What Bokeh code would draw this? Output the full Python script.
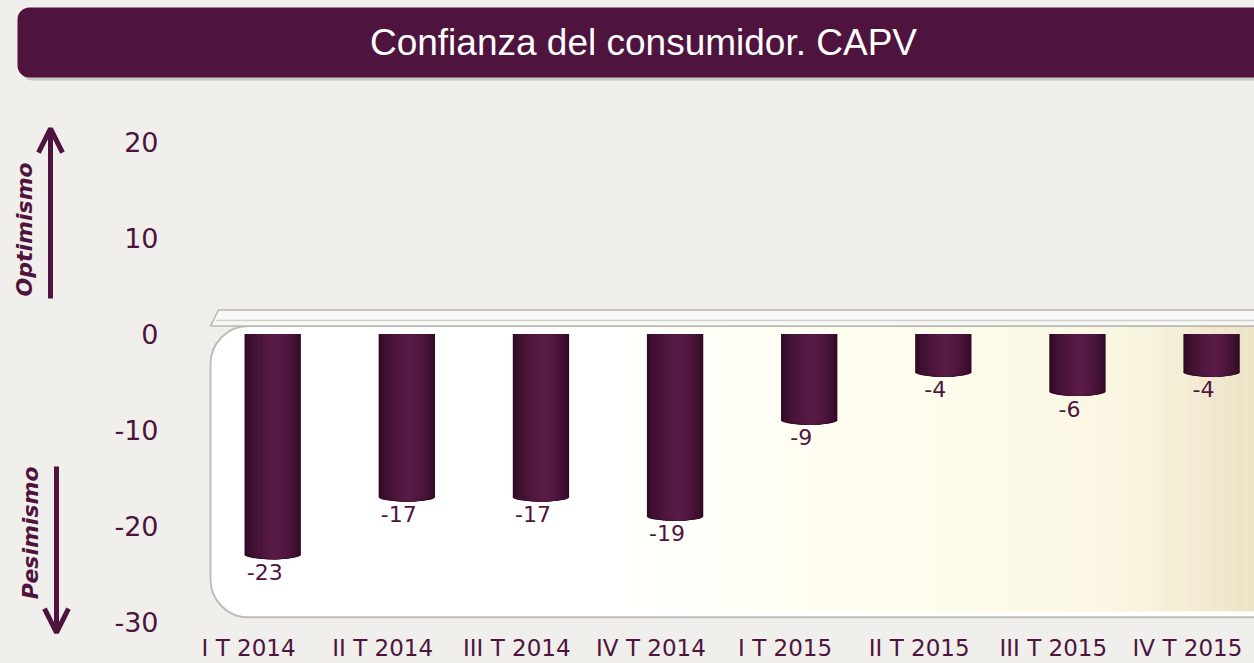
import numpy as np
from bokeh.plotting import figure
from bokeh.models import Range1d, FactorRange, FixedTicker, Arrow, OpenHead, ColumnDataSource
from bokeh.layouts import column, row
from bokeh.transform import dodge
from bokeh.core.properties import value
from bokeh.embed import file_html
from bokeh.resources import INLINE

# ---------------- data ----------------
categories = ["I T 2014", "II T 2014", "III T 2014", "IV T 2014",
              "I T 2015", "II T 2015", "III T 2015", "IV T 2015"]
confianza = [-23, -17, -17, -19, -9, -4, -6, -4]
y_ticks = [-30, -20, -10, 0, 10, 20]
title_text = "Confianza del consumidor. CAPV"
label_up = "Optimismo"
label_down = "Pesimismo"

# ---------------- style ----------------
PURPLE = "#4E143D"
BG = "#F0EFEB"
W = 1254
TITLE_H = 84
MAIN_H = 579
LEFT_W = 80

y_range = Range1d(-31.29, 24.32)

# ---------------- title bar ----------------
tf = figure(title=None, width=W, height=TITLE_H, x_range=Range1d(0, W), y_range=Range1d(0, TITLE_H),
            x_axis_type=None, y_axis_type=None, min_border=0,
            output_backend="svg", toolbar_location=None,
            background_fill_color=BG, border_fill_color=BG, outline_line_color=None)
tf.grid.visible = False
tf.quad(left=20, right=W + 30, top=73, bottom=4, fill_color="#8E8C86", fill_alpha=0.4,
        line_color=None, border_radius=12)
tf.quad(left=17, right=W + 30, top=77, bottom=7, fill_color=PURPLE, line_color=None,
        border_radius=12)
tf.text(x=[643], y=[42], text=[title_text], text_align="center", text_baseline="middle",
        text_font=value("Liberation Sans"), text_font_size="37px", text_color="white")

# ---------------- left arrows (frame aligned with the main chart) ----------------
lf = figure(title=None, width=LEFT_W, height=MAIN_H, x_range=Range1d(0, LEFT_W),
            y_range=y_range,
            x_axis_type=None, y_axis_type=None,
            min_border_left=0, min_border_right=0, min_border_top=16, min_border_bottom=28,
            output_backend="svg", toolbar_location=None,
            background_fill_color=BG, border_fill_color=BG, outline_line_color=None)
lf.grid.visible = False
lf.add_layout(Arrow(end=OpenHead(size=24, line_width=5, line_color=PURPLE),
                    x_start=50, y_start=3.7, x_end=50, y_end=21.4,
                    line_width=5, line_color=PURPLE))
lf.add_layout(Arrow(end=OpenHead(size=24, line_width=5, line_color=PURPLE),
                    x_start=56, y_start=-13.8, x_end=56, y_end=-31.1,
                    line_width=5, line_color=PURPLE))
lf.text(x=[24], y=[10.9], text=[label_up], angle=np.pi / 2, text_align="center",
        text_baseline="middle", text_font=value("DejaVu Sans"), text_font_style="bold italic",
        text_font_size="22px", text_color=PURPLE)
lf.text(x=[30], y=[-20.7], text=[label_down], angle=np.pi / 2, text_align="center",
        text_baseline="middle", text_font=value("DejaVu Sans"), text_font_style="bold italic",
        text_font_size="22px", text_color=PURPLE)

# ---------------- main chart ----------------
p = figure(x_range=FactorRange(*categories), y_range=y_range,
           width=W - LEFT_W, height=MAIN_H,
           min_border_left=101, min_border_right=0, min_border_top=16, min_border_bottom=28,
           output_backend="svg", toolbar_location=None,
           background_fill_color=BG, border_fill_color=BG, outline_line_color=None)
p.grid.visible = False

# rounded "floor" panel
p.quad(left=0.216, right=8.3, top=0.83, bottom=-29.5, fill_color="white",
       line_color="#BEBDB5", line_width=2, border_radius=38)
# warm gradient toward the right
xs = np.linspace(3.0, 8.3, 60)
stops_x = [3.0, 5.2, 7.0, 7.9, 8.3]
stops_c = np.array([[255, 255, 255], [255, 253, 238], [250, 246, 226], [238, 229, 200], [232, 222, 190]])
cols = []
for a, b in zip(xs[:-1], xs[1:]):
    m = (a + b) / 2
    rgb = [int(round(np.interp(m, stops_x, stops_c[:, k]))) for k in range(3)]
    cols.append("#%02x%02x%02x" % tuple(rgb))
p.quad(left=xs[:-1], right=xs[1:], top=0.73, bottom=-28.9, fill_color=cols, line_color=None)
# lip of the floor
p.patch(x=[0.216, 0.276, 8.3, 8.3], y=[0.83, 2.5, 2.5, 0.83], fill_color="#F8F8F6",
        line_color="#B9B8B0", line_width=1.5)
p.segment(x0=[0.26], y0=[1.4], x1=[8.3], y1=[1.4], line_color="#D0CFC8", line_width=1.5)

source = ColumnDataSource(dict(cat=categories, val=confianza,
                               lab=[str(v) for v in confianza]))
layers = [(0.42, 0.180, "#300A25"), (0.39, 0.182, "#380D2B"), (0.35, 0.184, "#3F1030"),
          (0.30, 0.187, "#451235"), (0.25, 0.190, "#4B1439"), (0.19, 0.194, "#50173F"),
          (0.13, 0.198, "#541943"), (0.07, 0.200, "#571B46")]
for w, off, c in layers:
    bx = dodge("cat", off, range=p.x_range)
    p.vbar(x=bx, top=0, bottom="val", width=w, fill_color=c, line_color=None, source=source)
    p.ellipse(x=bx, y="val", width=w, height=0.9, fill_color=c, line_color=None, source=source)

p.text(x=dodge("cat", 0.12, range=p.x_range), y="val", text="lab", text_align="center",
       text_baseline="top", y_offset=9, text_font=value("DejaVu Sans"),
       text_font_size="22px", text_color=PURPLE, source=source)

p.yaxis.ticker = FixedTicker(ticks=y_ticks)
p.yaxis.major_label_overrides = {t: str(t) for t in y_ticks}
for ax in (p.xaxis, p.yaxis):
    ax.axis_line_color = None
    ax.major_tick_line_color = None
    ax.minor_tick_line_color = None
    ax.major_tick_out = 0
    ax.major_tick_in = 0
    ax.major_label_text_color = PURPLE
    ax.major_label_text_font = "DejaVu Sans"
p.yaxis.major_label_text_font_size = "27px"
p.yaxis.major_label_standoff = 23
p.xaxis.major_label_text_font_size = "23px"
p.xaxis.major_label_standoff = 0

layout = column(tf, row(lf, p))
tmpl = "{% block preamble %}<style>html, body { background: #F0EFEB; }</style>{% endblock %}"
open("out.html", "w").write(file_html(layout, INLINE, template=tmpl))
